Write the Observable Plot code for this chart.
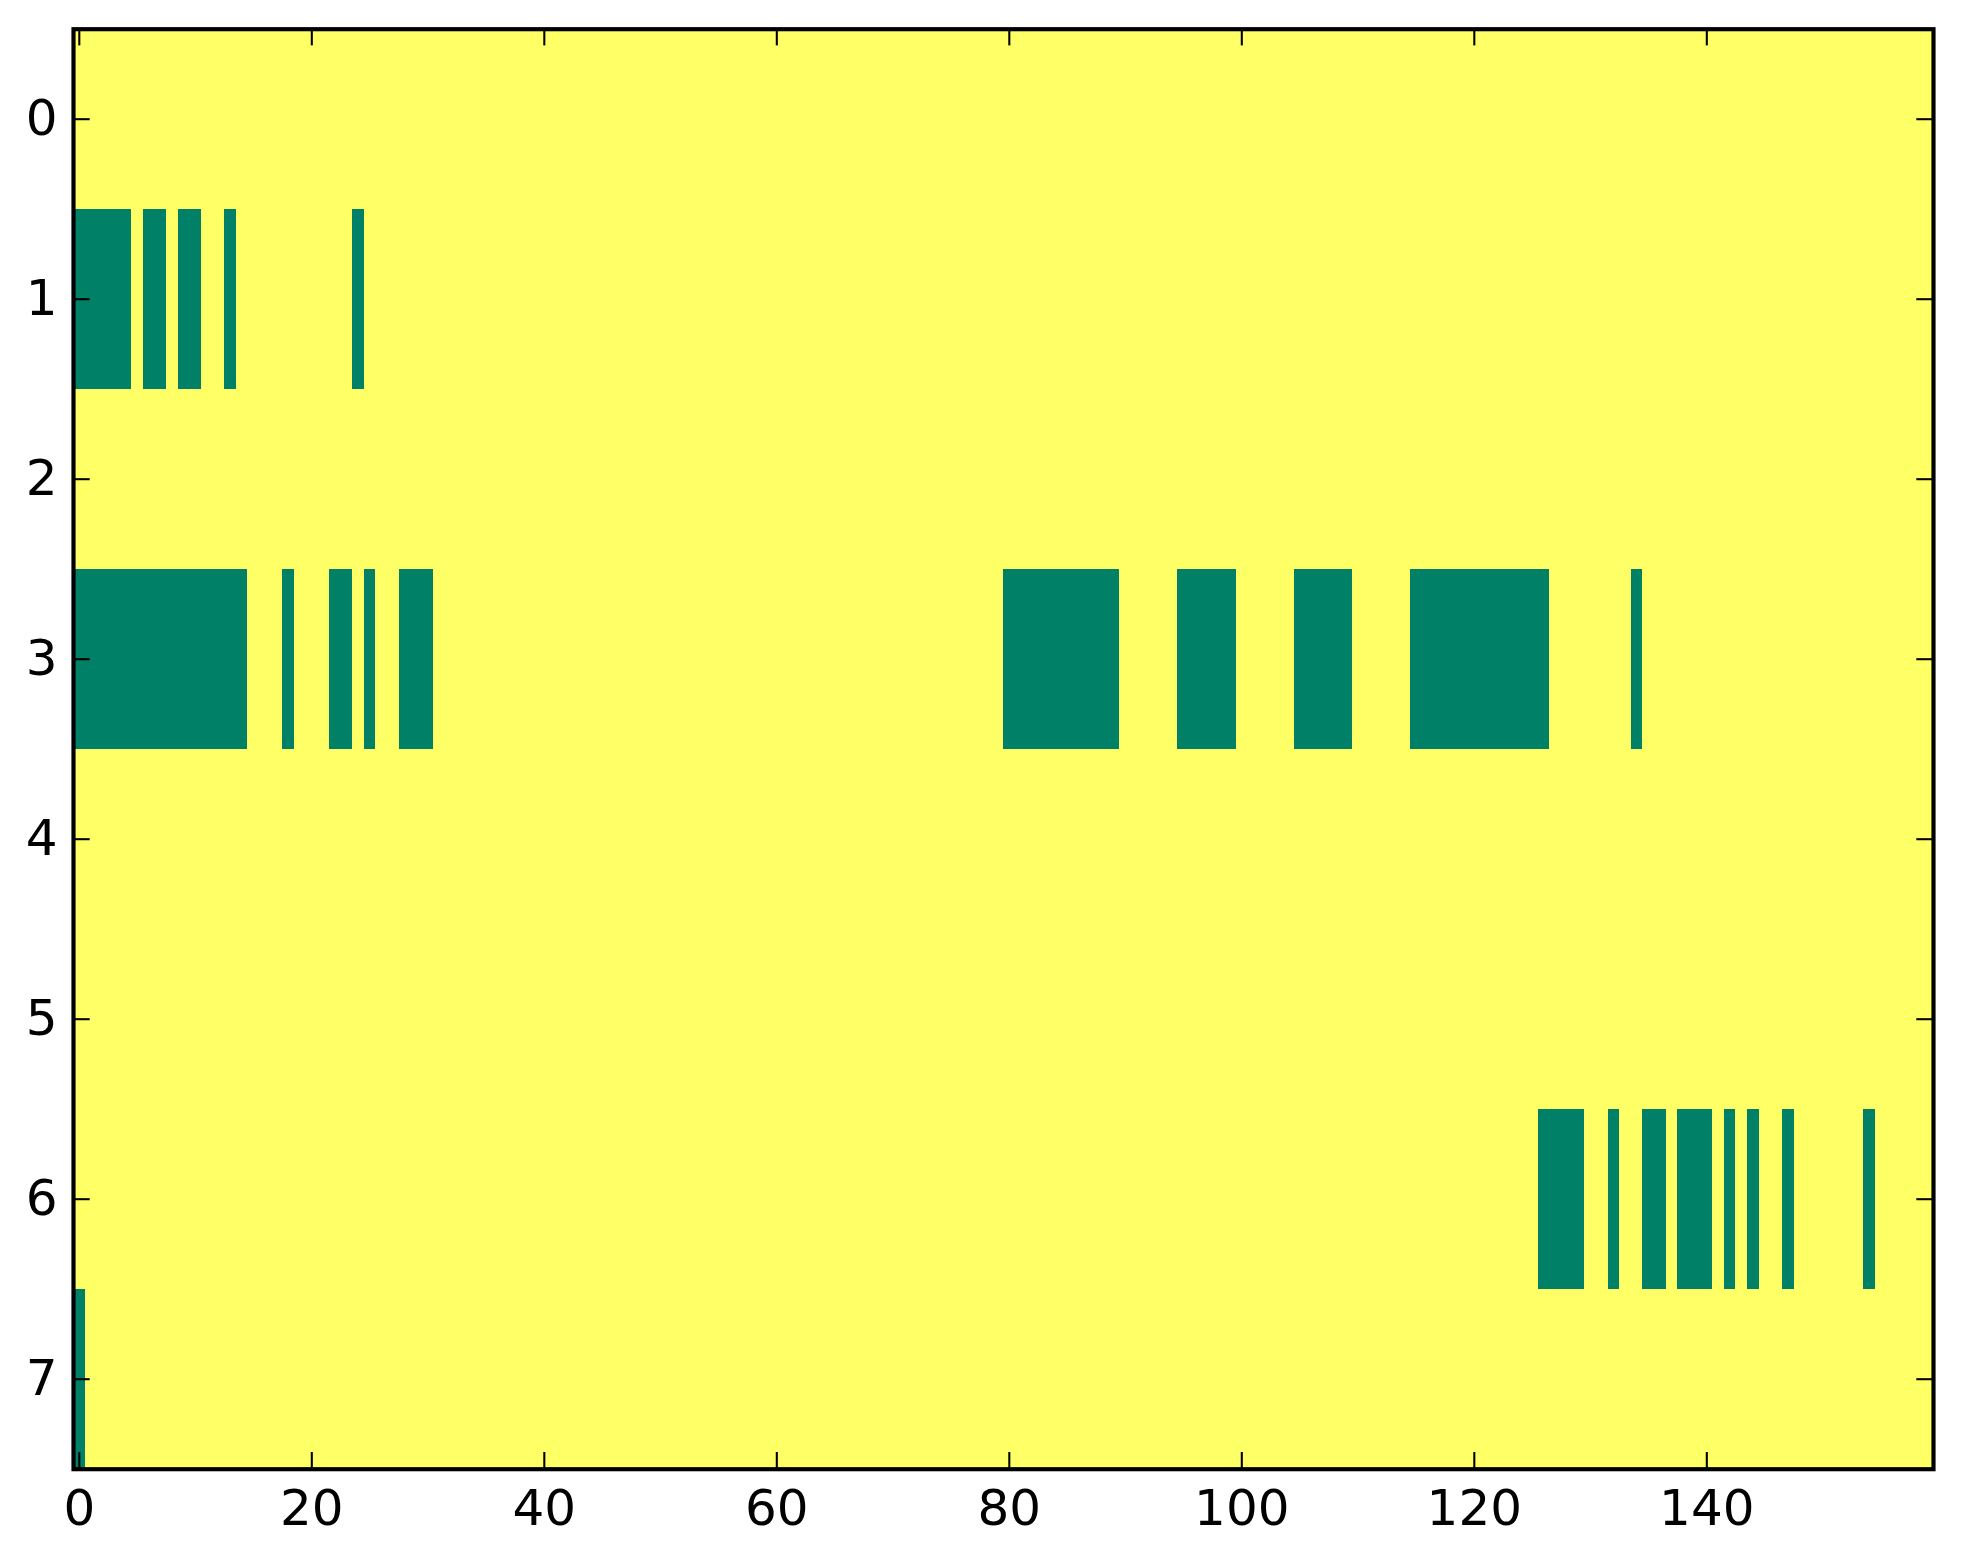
<!DOCTYPE html>
<html>
<head>
<meta charset="utf-8">
<script src="https://cdn.jsdelivr.net/npm/d3@7"></script>
<script src="https://cdn.jsdelivr.net/npm/@observablehq/plot@0.6"></script>
<style>
  html, body { margin: 0; padding: 0; background: white; overflow: hidden; }
  svg { display: block; }
</style>
</head>
<body>
<div id="chart"></div>
<script>
// ---- data ----
const rowIndex = [0, 1, 2, 3, 4, 5, 6, 7];
const columnCount = 160;
// columns whose value is 0 (green); every other cell is 1 (yellow)
const row0Zeros = [];
const row1Zeros = [0, 1, 2, 3, 4, 6, 7, 9, 10, 13, 24];
const row2Zeros = [];
const row3Zeros = [0, 1, 2, 3, 4, 5, 6, 7, 8, 9, 10, 11, 12, 13, 14, 18, 22, 23, 25, 28, 29, 30,
  80, 81, 82, 83, 84, 85, 86, 87, 88, 89, 95, 96, 97, 98, 99, 105, 106, 107, 108, 109,
  115, 116, 117, 118, 119, 120, 121, 122, 123, 124, 125, 126, 134];
const row4Zeros = [];
const row5Zeros = [];
const row6Zeros = [126, 127, 128, 129, 132, 135, 136, 138, 139, 140, 142, 144, 147, 154];
const row7Zeros = [0];
const xTicks = [0, 20, 40, 60, 80, 100, 120, 140];
const yTicks = [0, 1, 2, 3, 4, 5, 6, 7];
const cellValues = [0, 1];
const cellColors = ["#008066", "#ffff66"];

// ---- build runs of equal value per row ----
const zerosByRow = [row0Zeros, row1Zeros, row2Zeros, row3Zeros, row4Zeros, row5Zeros, row6Zeros, row7Zeros];
const runs = [];
rowIndex.forEach((r) => {
  const zs = new Set(zerosByRow[r]);
  let start = 0;
  let cur = zs.has(0) ? 0 : 1;
  for (let c = 1; c <= columnCount; c++) {
    const v = c < columnCount ? (zs.has(c) ? 0 : 1) : -1;
    if (v !== cur) {
      runs.push({row: r, c0: start, c1: c - 1, value: cur});
      start = c;
      cur = v;
    }
  }
});

const W = 1963, H = 1564;
const mL = 73, mR = 30, mT = 28.7, mB = 95.3;
const innerW = W - mL - mR, innerH = H - mT - mB;
const tickLen = 16.7;

const chart = Plot.plot({
  width: W,
  height: H,
  marginLeft: mL,
  marginRight: mR,
  marginTop: mT,
  marginBottom: mB,
  style: {fontFamily: "'DejaVu Sans', sans-serif", background: "white", overflow: "visible"},
  x: {domain: [-0.5, columnCount - 0.5], label: null},
  y: {domain: [-0.5, rowIndex.length - 0.5], reverse: true, label: null},
  color: {type: "ordinal", domain: cellValues, range: cellColors},
  marks: [
    Plot.rect(runs, {
      x1: (d) => d.c0 - 0.5,
      x2: (d) => d.c1 + 0.5,
      y1: (d) => d.row - 0.5,
      y2: (d) => d.row + 0.5,
      fill: (d) => d.value,
      shapeRendering: "crispEdges"
    }),
    // inward ticks: bottom, top, left, right
    Plot.tickX(xTicks, {x: (d) => d, stroke: "black", strokeWidth: 2.08, insetTop: innerH - tickLen}),
    Plot.tickX(xTicks, {x: (d) => d, stroke: "black", strokeWidth: 2.08, insetBottom: innerH - tickLen}),
    Plot.tickY(yTicks, {y: (d) => d, stroke: "black", strokeWidth: 2.08, insetRight: innerW - tickLen}),
    Plot.tickY(yTicks, {y: (d) => d, stroke: "black", strokeWidth: 2.08, insetLeft: innerW - tickLen}),
    Plot.axisX({ticks: xTicks, tickSize: 0, tickPadding: 20, fontSize: 50, tickFormat: (d) => String(d), fill: "black"}),
    Plot.axisY({ticks: yTicks, tickSize: 0, tickPadding: 16, fontSize: 50, tickFormat: (d) => String(d), fill: "black"}),
    Plot.frame({stroke: "black", strokeWidth: 4.17})
  ]
});
document.getElementById("chart").appendChild(chart);
</script>
</body>
</html>
